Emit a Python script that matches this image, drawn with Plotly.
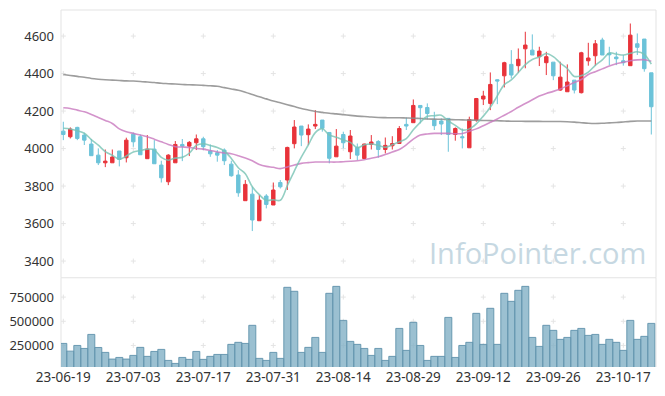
import pandas as pd
import plotly.graph_objects as go

# ---------------- data ----------------
holidays = ["2023-08-15", "2023-09-28", "2023-09-29", "2023-10-02", "2023-10-03", "2023-10-09"]
dates = pd.bdate_range("2023-06-19", "2023-10-23", freq="C", holidays=holidays)
categories = [d.strftime("%y-%m-%d") for d in dates]

open_ = [4093, 4063, 4113, 4072, 4024, 3965, 3924, 3924, 3987, 3951,
         4077, 4063, 3946, 3997, 3912, 3823, 3924, 4022, 4013, 4031,
         4052, 3987, 3978, 3992, 3917, 3859, 3722, 3757, 3615, 3747,
         3699, 3819, 3832, 4026, 4120, 4074, 4120, 4152, 4086, 3956,
         4075, 3983, 4006, 3947, 4022, 4038, 3995, 4015, 4027, 4129,
         4138, 4230, 4219, 4152, 4147, 4161, 4075, 4063, 4004, 4152,
         4264, 4241, 4367, 4388, 4449, 4442, 4532, 4525, 4490, 4458,
         4461, 4312, 4303, 4365, 4298, 4468, 4495, 4579, 4508, 4488,
         4468, 4442, 4559, 4584, 4404]
high = [4143, 4113, 4116, 4084, 4051, 4001, 3995, 3995, 3987, 4058,
        4086, 4075, 4072, 4045, 3935, 3970, 4040, 4051, 4040, 4075,
        4063, 4022, 3992, 4001, 3935, 3885, 3832, 3796, 3752, 3757,
        3819, 3832, 4010, 4152, 4120, 4129, 4205, 4152, 4086, 4104,
        4090, 4099, 4027, 4026, 4072, 4045, 4059, 4066, 4120, 4166,
        4262, 4232, 4241, 4196, 4161, 4161, 4113, 4107, 4170, 4270,
        4308, 4406, 4370, 4463, 4525, 4534, 4623, 4609, 4543, 4516,
        4461, 4463, 4449, 4365, 4516, 4564, 4579, 4591, 4543, 4516,
        4499, 4667, 4614, 4584, 4404]
low = [4045, 4054, 4045, 4019, 3962, 3912, 3901, 3924, 3905, 3926,
       4010, 3967, 3946, 3919, 3819, 3805, 3924, 3933, 3960, 3992,
       3992, 3956, 3930, 3912, 3850, 3743, 3722, 3560, 3615, 3681,
       3699, 3787, 3779, 4001, 4013, 4019, 4104, 4090, 3921, 3956,
       4001, 3944, 3939, 3947, 3995, 3951, 3974, 3995, 4027, 4099,
       4138, 4134, 4155, 4099, 4072, 3983, 4042, 4001, 4004, 4143,
       4232, 4205, 4237, 4326, 4374, 4404, 4428, 4499, 4440, 4392,
       4365, 4308, 4303, 4294, 4294, 4442, 4442, 4499, 4445, 4445,
       4442, 4442, 4499, 4410, 4075]
close = [4075, 4104, 4054, 4045, 3962, 3924, 3933, 3955, 3942, 4045,
         4036, 3967, 3997, 3919, 3844, 3965, 4022, 4013, 4033, 4052,
         4010, 3972, 3965, 3935, 3855, 3764, 3809, 3619, 3725, 3702,
         3779, 3796, 4006, 4115, 4072, 4104, 4129, 4108, 3948, 4013,
         4031, 4067, 3965, 4024, 4035, 3995, 4017, 4027, 4107, 4120,
         4230, 4218, 4187, 4122, 4131, 4075, 4107, 4058, 4155, 4267,
         4280, 4342, 4360, 4458, 4392, 4476, 4552, 4499, 4520, 4490,
         4388, 4381, 4355, 4312, 4511, 4483, 4559, 4499, 4500, 4479,
         4458, 4605, 4540, 4426, 4223]
volume = [271000, 191000, 250000, 219000, 364000, 229000, 178000, 109000, 126000, 109000,
          147000, 230000, 137000, 188000, 209000, 95000, 64000, 126000, 106000, 188000,
          106000, 137000, 157000, 157000, 261000, 282000, 271000, 458000, 116000, 95000,
          178000, 116000, 851000, 810000, 178000, 230000, 333000, 178000, 789000, 861000,
          509000, 292000, 261000, 219000, 147000, 219000, 95000, 137000, 426000, 199000,
          489000, 250000, 95000, 137000, 137000, 540000, 126000, 250000, 282000, 582000,
          261000, 634000, 261000, 789000, 706000, 820000, 861000, 333000, 240000, 458000,
          406000, 313000, 333000, 406000, 426000, 354000, 364000, 261000, 313000, 282000,
          199000, 509000, 313000, 344000, 478000]
ma5 = [4108, 4104, 4095, 4082, 4048, 4018, 3984, 3964, 3943, 3960,
       3982, 3989, 3997, 3993, 3953, 3938, 3949, 3953, 3975, 4017,
       4026, 4016, 4006, 3987, 3947, 3898, 3866, 3796, 3754, 3724,
       3727, 3724, 3802, 3880, 3954, 4019, 4085, 4106, 4072, 4060,
       4046, 4033, 4005, 4020, 4024, 4017, 4007, 4020, 4036, 4053,
       4100, 4140, 4172, 4175, 4178, 4147, 4124, 4099, 4105, 4132,
       4173, 4220, 4281, 4341, 4366, 4406, 4448, 4475, 4488, 4507,
       4490, 4456, 4427, 4385, 4389, 4408, 4444, 4473, 4510, 4504,
       4499, 4508, 4516, 4502, 4450]
ma20 = [4218, 4214, 4205, 4196, 4182, 4166, 4150, 4134, 4105, 4090,
        4081, 4072, 4063, 4050, 4036, 4022, 4010, 4008, 4006, 4001,
        3997, 3990, 3982, 3977, 3972, 3962, 3950, 3935, 3915, 3905,
        3900, 3893, 3902, 3912, 3921, 3925, 3928, 3928, 3928, 3928,
        3930, 3932, 3935, 3940, 3948, 3956, 3968, 3982, 3995, 4020,
        4050, 4072, 4078, 4081, 4081, 4081, 4079, 4080, 4092, 4105,
        4122, 4140, 4158, 4178, 4198, 4220, 4240, 4260, 4280, 4294,
        4305, 4318, 4335, 4352, 4368, 4395, 4410, 4425, 4440, 4452,
        4460, 4468, 4473, 4474, 4466]
ma120 = [4395, 4390, 4385, 4380, 4374, 4370, 4367, 4365, 4363, 4361,
         4360, 4358, 4355, 4352, 4348, 4346, 4344, 4342, 4340, 4339,
         4337, 4335, 4332, 4325, 4318, 4311, 4300, 4288, 4276, 4265,
         4254, 4244, 4234, 4224, 4214, 4206, 4198, 4193, 4188, 4185,
         4181, 4177, 4173, 4171, 4168, 4166, 4165, 4164, 4164, 4163,
         4162, 4160, 4158, 4157, 4156, 4155, 4154, 4153, 4152, 4151,
         4150, 4149, 4148, 4147, 4146, 4146, 4145, 4145, 4145, 4144,
         4144, 4144, 4143, 4141, 4138, 4135, 4134, 4135, 4137, 4139,
         4142, 4145, 4147, 4147, 4147]

price_ticks = [3400, 3600, 3800, 4000, 4200, 4400, 4600]
price_labels = ["3400", "3600", "3800", "4000", "4200", "4400", "4600"]
volume_ticks = [250000, 500000, 750000]
volume_labels = ["250000", "500000", "750000"]
tick_idx = list(range(0, 85, 10))
tick_labels = [categories[i] for i in tick_idx]

# ---------------- style ----------------
UP = "#e8333a"
DOWN = "#6cc3d9"
FRAME = "#e3e3e3"
CROSS = "#e4e4e4"
FONT = "Noto Sans"
PRICE_RANGE = [3311, 4739]
VOL_RANGE = [27000, 950000]
SPLIT = 0.25
W, H = 665, 396
ML, MR, MT, MB = 61, 9, 10, 29

fig = go.Figure()

fig.add_trace(go.Candlestick(
    x=categories, open=open_, high=high, low=low, close=close,
    increasing=dict(line=dict(color=UP, width=1), fillcolor=UP),
    decreasing=dict(line=dict(color=DOWN, width=1), fillcolor=DOWN),
    whiskerwidth=0, showlegend=False, hoverinfo="skip", xaxis="x", yaxis="y"))

fig.add_trace(go.Scatter(x=categories, y=ma120, mode="lines", showlegend=False, hoverinfo="skip",
                         line=dict(color="rgba(140,140,140,0.85)", width=1.6, shape="spline"),
                         xaxis="x", yaxis="y"))
fig.add_trace(go.Scatter(x=categories, y=ma20, mode="lines", showlegend=False, hoverinfo="skip",
                         line=dict(color="rgba(200,120,190,0.8)", width=1.6, shape="spline"),
                         xaxis="x", yaxis="y"))
fig.add_trace(go.Scatter(x=categories, y=ma5, mode="lines", showlegend=False, hoverinfo="skip",
                         line=dict(color="rgba(120,195,180,0.8)", width=1.6, shape="spline"),
                         xaxis="x", yaxis="y"))

fig.add_trace(go.Bar(x=categories, y=volume, showlegend=False, width=1.0, hoverinfo="skip",
                     marker=dict(color="rgba(130,176,198,0.8)",
                                 line=dict(color="rgba(95,145,172,0.9)", width=1)),
                     xaxis="x", yaxis="y2"))

# ---- grid crosses (small "+" at tick intersections), drawn below the data ----
plot_w = W - ML - MR
plot_h = H - MT - MB
x_span = 85.0
px_per_cat = plot_w / x_span
main_px_per_unit = (plot_h * (1 - SPLIT)) / (PRICE_RANGE[1] - PRICE_RANGE[0])
vol_px_per_unit = (plot_h * SPLIT) / (VOL_RANGE[1] - VOL_RANGE[0])
arm = 2.5
shapes = []
for i in tick_idx:
    dx = arm / px_per_cat
    for v in price_ticks:
        dy = arm / main_px_per_unit
        shapes.append(dict(type="line", xref="x", yref="y", x0=i - dx, x1=i + dx, y0=v, y1=v,
                           line=dict(color=CROSS, width=1), layer="below"))
        shapes.append(dict(type="line", xref="x", yref="y", x0=i, x1=i, y0=v - dy, y1=v + dy,
                           line=dict(color=CROSS, width=1), layer="below"))
    for v in volume_ticks:
        dy = arm / vol_px_per_unit
        shapes.append(dict(type="line", xref="x", yref="y2", x0=i - dx, x1=i + dx, y0=v, y1=v,
                           line=dict(color=CROSS, width=1), layer="below"))
        shapes.append(dict(type="line", xref="x", yref="y2", x0=i, x1=i, y0=v - dy, y1=v + dy,
                           line=dict(color=CROSS, width=1), layer="below"))

shapes += [
    dict(type="rect", xref="paper", yref="paper", x0=0, x1=1, y0=SPLIT, y1=1,
         line=dict(color=FRAME, width=1), layer="below"),
    dict(type="line", xref="paper", yref="paper", x0=0, x1=0, y0=0, y1=SPLIT,
         line=dict(color=FRAME, width=1), layer="below"),
    dict(type="line", xref="paper", yref="paper", x0=1, x1=1, y0=0, y1=SPLIT,
         line=dict(color=FRAME, width=1), layer="below"),
]

fig.update_layout(
    width=W, height=H,
    margin=dict(l=ML, r=MR, t=MT, b=MB, autoexpand=False),
    paper_bgcolor="white", plot_bgcolor="white",
    font=dict(family=FONT, size=13, color="#333333"),
    bargap=0,
    hovermode=False,
    xaxis=dict(type="category", categoryorder="array", categoryarray=categories,
               range=[-0.33, 84.67], anchor="y2", automargin=False,
               tickmode="array", tickvals=tick_labels, ticktext=tick_labels, tickangle=0,
               showgrid=False, zeroline=False, showline=False, ticks="",
               rangeslider=dict(visible=False), tickfont=dict(size=13.5, color="#333333")),
    yaxis=dict(domain=[SPLIT, 1], range=PRICE_RANGE, tickmode="array",
               tickvals=price_ticks, ticktext=price_labels, automargin=False,
               showgrid=False, zeroline=False, showline=False, ticks="", ticklabelstandoff=6),
    yaxis2=dict(domain=[0, SPLIT], range=VOL_RANGE, tickmode="array",
                tickvals=volume_ticks, ticktext=volume_labels, automargin=False,
                showgrid=False, zeroline=False, showline=False, ticks="", ticklabelstandoff=6),
    shapes=shapes,
    annotations=[dict(text="InfoPointer.com", xref="paper", yref="paper",
                      x=0.986, y=0.322, xanchor="right", yanchor="middle", showarrow=False,
                      font=dict(family="Open Sans", size=29, color="#c6d8e2"))],
)

fig.write_html("out.html", config={"displayModeBar": False, "staticPlot": True},
               post_script="document.body.style.margin='0';")
